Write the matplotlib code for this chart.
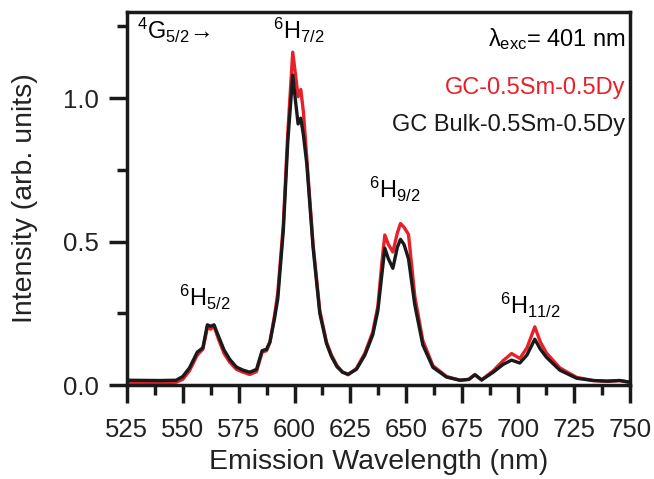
import matplotlib
matplotlib.use("Agg")
import matplotlib.pyplot as plt
from matplotlib.ticker import MultipleLocator

plt.rcParams['font.family'] = ['Liberation Sans', 'DejaVu Sans']
plt.rcParams['mathtext.fontset'] = 'custom'
plt.rcParams['mathtext.rm'] = 'Liberation Sans'
plt.rcParams['mathtext.it'] = 'Liberation Sans'

# emission spectra (excitation 401 nm)
wavelength = [525, 540, 547, 550, 553, 556.5, 559, 561, 562.5, 564, 566, 568.5, 571, 574, 577,
              580, 583, 585.5, 587.5, 589, 591, 592.5, 595, 597, 599.2, 600.3, 601.6, 602.8,
              604, 605.5, 608.3, 611.3, 614.3, 616.5, 619, 621.5, 624, 627.7, 631.5, 635,
              637.3, 639, 640.4, 642, 644, 646, 647.4, 649, 651, 653.8, 657.4, 661.9, 668,
              674, 678, 680.7, 683.7, 688.9, 693.3, 697.1, 700.8, 704, 707.5, 710, 712.7,
              718.7, 726.2, 733.6, 740, 745.5, 750]
gc_bulk = [0.017, 0.016, 0.017, 0.03, 0.06, 0.115, 0.13, 0.21, 0.205, 0.21, 0.17, 0.122, 0.09,
           0.063, 0.052, 0.045, 0.055, 0.12, 0.125, 0.15, 0.23, 0.3, 0.54, 0.85, 1.08, 1.0,
           0.91, 0.93, 0.87, 0.77, 0.48, 0.25, 0.145, 0.1, 0.064, 0.045, 0.038, 0.055, 0.105,
           0.175, 0.26, 0.38, 0.477, 0.44, 0.407, 0.48, 0.508, 0.49, 0.44, 0.28, 0.14, 0.062,
           0.028, 0.017, 0.02, 0.036, 0.018, 0.045, 0.072, 0.087, 0.077, 0.105, 0.16, 0.125,
           0.097, 0.052, 0.024, 0.016, 0.014, 0.016, 0.01]
gc = [0.010, 0.009, 0.01, 0.02, 0.05, 0.105, 0.125, 0.2, 0.195, 0.205, 0.16, 0.11, 0.08, 0.055,
      0.045, 0.037, 0.047, 0.115, 0.12, 0.15, 0.24, 0.32, 0.56, 0.88, 1.16, 1.09, 1.005, 1.03,
      0.95, 0.79, 0.49, 0.26, 0.15, 0.105, 0.068, 0.045, 0.036, 0.058, 0.112, 0.185, 0.275,
      0.42, 0.523, 0.49, 0.464, 0.53, 0.563, 0.55, 0.525, 0.31, 0.155, 0.068, 0.03, 0.017,
      0.02, 0.037, 0.018, 0.05, 0.085, 0.11, 0.093, 0.13, 0.203, 0.15, 0.112, 0.06, 0.027,
      0.016, 0.013, 0.016, 0.01]

fig = plt.figure(figsize=(6.54, 4.79), dpi=100)
ax = fig.add_axes([0.194, 0.196, 0.769, 0.779])

ax.plot(wavelength, gc, color='#e8202a', lw=2.4)
ax.plot(wavelength, gc_bulk, color='#1a1a1a', lw=2.4)

ax.set_xlim(525, 750)
ax.set_ylim(0, 1.30)
ax.xaxis.set_major_locator(MultipleLocator(25))
ax.xaxis.set_minor_locator(MultipleLocator(12.5))
ax.yaxis.set_major_locator(MultipleLocator(0.5))
ax.yaxis.set_minor_locator(MultipleLocator(0.25))
ax.yaxis.set_major_formatter(plt.FormatStrFormatter('%.1f'))
ax.tick_params(which='both', direction='out', width=2.5, color='#1a1a1a',
               labelsize=18.5, labelcolor='#222222')
ax.tick_params(which='major', length=13)
ax.tick_params(which='minor', length=7)
ax.tick_params(axis='x', pad=10.5)
ax.tick_params(axis='y', pad=7)
for s in ax.spines.values():
    s.set_linewidth(2.5)
    s.set_color('#1a1a1a')

ax.set_xlabel('Emission Wavelength (nm)', fontsize=20.5, color='#222222', labelpad=5)
ax.set_ylabel('Intensity (arb. units)', fontsize=20.5, color='#222222', labelpad=18)

fs = 17
ax.text(529.5, 1.285, r'$^4$G$_{5/2}$→', fontsize=fs, va='top', ha='left')
ax.text(602, 1.285, r'$^6$H$_{7/2}$', fontsize=fs, va='top', ha='center')
ax.text(748, 1.206, r'$\lambda_{\rm exc}$= 401 nm', fontsize=fs, va='center', ha='right')
ax.text(748, 1.035, 'GC-0.5Sm-0.5Dy', fontsize=fs, va='center', ha='right', color='#e8202a')
ax.text(748, 0.906, 'GC Bulk-0.5Sm-0.5Dy', fontsize=fs, va='center', ha='right', color='#1a1a1a')
ax.text(645, 0.68, r'$^6$H$_{9/2}$', fontsize=fs, va='center', ha='center')
ax.text(560, 0.307, r'$^6$H$_{5/2}$', fontsize=fs, va='center', ha='center')
ax.text(705.5, 0.279, r'$^6$H$_{11/2}$', fontsize=fs, va='center', ha='center')

fig.savefig('out.png', dpi=100)
